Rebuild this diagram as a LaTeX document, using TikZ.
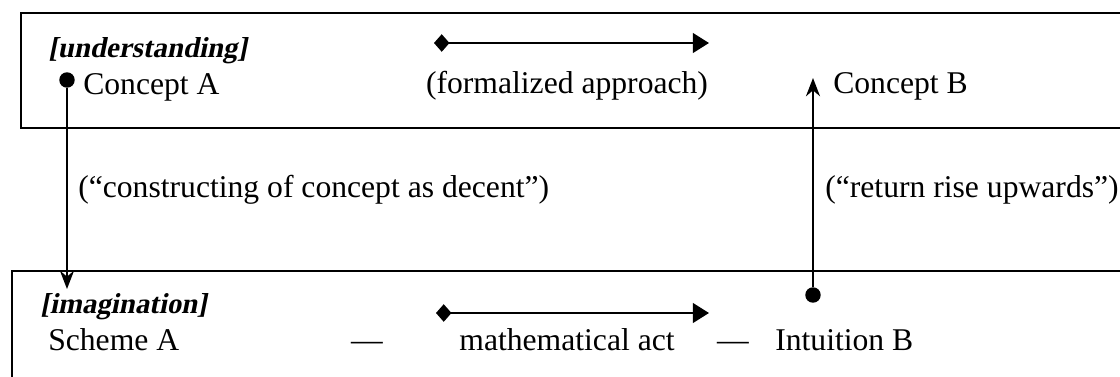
\documentclass[tikz,border=0pt]{standalone}
\usepackage{fontspec}
\setmainfont{Liberation Serif}[
    BoldItalicFont={Liberation Serif Bold},
    BoldItalicFeatures={FakeSlant=0.2}]
\usetikzlibrary{arrows.meta}

\begin{document}
\begin{tikzpicture}[x=0.025cm, y=-0.025cm,
    every node/.style={inner sep=0pt, font=\fontsize{22.5}{27}\selectfont},
    lbl/.style={font=\fontsize{20.5}{25}\selectfont\bfseries\itshape},
    dot/.style={circle, fill=black, minimum size=11pt, inner sep=0pt},
    level/.style={line width=1.1pt},
    move/.style={line width=1.7pt, {Diamond[length=11pt,width=12.5pt]}-{Triangle[length=11.5pt,width=14pt]}},
    link/.style={line width=1.4pt, -{Stealth[length=13pt,width=10pt]}}]
    \clip (0,0) rectangle (1120,376);
    \useasboundingbox (0,0) rectangle (1120,376);

    % Levels
    \draw[level] (21,13) rectangle (1140,128);
    \draw[level] (12,271) rectangle (1140,400);

    % Upper level
    \node[lbl, anchor=base west] (und) at (48,57) {[understanding]};
    \node[dot] (dotA) at (67,80) {};
    \node[anchor=base west] (cA) at (83,94) {Concept A};
    \coordinate (fs) at (434,43);
    \coordinate (fe) at (709,43);
    \draw[move] (fs) -- (fe);
    \node[anchor=base] (form) at (567,93) {(formalized approach)};
    \coordinate (tipB) at (813,78);
    \node[anchor=base west] (cB) at (833,93) {Concept B};

    % Between levels
    \node[anchor=base west] (constr) at (78,197) {(“constructing of concept as decent”)};
    \node[anchor=base west] (ret) at (825,197) {(“return rise upwards”)};

    % Lower level
    \coordinate (tipA) at (67,289);
    \node[lbl, anchor=base west] (imag) at (40,313) {[imagination]};
    \node[anchor=base west] (schA) at (48,350) {Scheme A};
    \node[anchor=base] (dash1) at (367,350) {—};
    \coordinate (ms) at (436,313);
    \coordinate (me) at (709,313);
    \draw[move] (ms) -- (me);
    \node[anchor=base] (act) at (567,350) {mathematical act};
    \node[anchor=base] (dash2) at (733,350) {—};
    \node[dot] (dotB) at (813,295) {};
    \node[anchor=base west] (intB) at (775,350) {Intuition B};

    % Descent and rise
    \draw[link] (dotA) -- (tipA);
    \draw[link] (dotB) -- (tipB);
\end{tikzpicture}
\end{document}
